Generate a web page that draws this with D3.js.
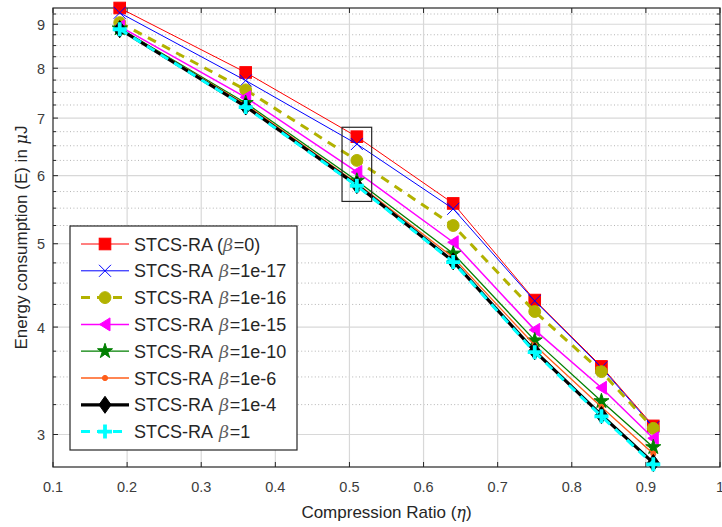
<!DOCTYPE html>
<html>
<head>
<meta charset="utf-8">
<script src="https://cdn.jsdelivr.net/npm/d3@7"></script>
<style>
  body { margin: 0; background: #fff; }
  svg { display: block; font-family: "Liberation Sans", Arial, sans-serif; }
</style>
</head>
<body>
<svg id="chart" width="722" height="527"></svg>
<script>
// compression ratio values on the x axis
const ratios = [0.19, 0.36, 0.51, 0.64, 0.75, 0.84, 0.91];

// energy consumption (uJ) for each beta
const beta0    = [9.40, 7.91, 6.66, 5.57, 4.30, 3.60, 3.07];
const beta1e17 = [9.28, 7.74, 6.53, 5.49, 4.29, 3.59, 3.06];
const beta1e16 = [9.04, 7.55, 6.25, 5.25, 4.17, 3.55, 3.05];
const beta1e15 = [8.95, 7.40, 6.06, 5.02, 3.97, 3.40, 2.97];
const beta1e10 = [8.90, 7.29, 5.92, 4.87, 3.86, 3.28, 2.90];
const beta1e6  = [8.89, 7.26, 5.88, 4.82, 3.81, 3.23, 2.85];
const beta1e4  = [8.88, 7.22, 5.85, 4.77, 3.75, 3.16, 2.78];
const beta1    = [8.88, 7.21, 5.84, 4.76, 3.74, 3.15, 2.77];

const betaLabels = ["0", "1e-17", "1e-16", "1e-15", "1e-10", "1e-6", "1e-4", "1"];

const xTicks = [0.1, 0.2, 0.3, 0.4, 0.5, 0.6, 0.7, 0.8, 0.9, 1];
const yTicks = [3, 4, 5, 6, 7, 8, 9];
const yMinor = [3.25, 3.5, 3.75, 4.25, 4.5, 4.75, 5.25, 5.5, 5.75, 6.25, 6.5, 6.75,
                7.25, 7.5, 7.75, 8.25, 8.5, 8.75, 9.25];

// zoom box around eta = 0.51
const boxX = [0.49, 0.53];
const boxY = [5.6, 6.83];

const svg = d3.select("#chart");
const mLeft = 53, mRight = 720, mTop = 8, mBottom = 467;
const axisCol = "#262626";
const tickCol = "#3c3c3c";

const x = d3.scaleLinear().domain([0.1, 1]).range([mLeft, mRight]);
const y = d3.scaleLog().domain([2.75, 9.4]).range([mBottom, mTop]);

// grid
const grid = svg.append("g");
grid.selectAll(".minor").data(yMinor).join("line")
    .attr("x1", mLeft).attr("x2", mRight)
    .attr("y1", d => y(d)).attr("y2", d => y(d))
    .attr("stroke", "#b4b4b4").attr("stroke-width", 1).attr("stroke-dasharray", "1,2.4");
grid.selectAll(".vx").data(xTicks.slice(1, -1)).join("line")
    .attr("x1", d => x(d)).attr("x2", d => x(d))
    .attr("y1", mTop).attr("y2", mBottom)
    .attr("stroke", "#d8d8d8").attr("stroke-width", 1.2);
grid.selectAll(".hy").data(yTicks).join("line")
    .attr("class", "hy")
    .attr("x1", mLeft).attr("x2", mRight)
    .attr("y1", d => y(d)).attr("y2", d => y(d))
    .attr("stroke", "#d8d8d8").attr("stroke-width", 1.2);

// axes
const ax = svg.append("g");
ax.append("rect").attr("x", mLeft).attr("y", mTop).attr("width", mRight - mLeft).attr("height", mBottom - mTop)
    .attr("fill", "none").attr("stroke", axisCol).attr("stroke-width", 1.2);
xTicks.forEach(t => {
    ax.append("line").attr("x1", x(t)).attr("x2", x(t)).attr("y1", mBottom).attr("y2", mBottom - 5).attr("stroke", axisCol);
    ax.append("line").attr("x1", x(t)).attr("x2", x(t)).attr("y1", mTop).attr("y2", mTop + 5).attr("stroke", axisCol);
    ax.append("text").attr("x", x(t)).attr("y", 492).attr("text-anchor", "middle")
        .attr("font-size", 14.5).attr("fill", tickCol).text(t);
});
yTicks.concat(yMinor).forEach(t => {
    const len = yTicks.includes(t) ? 5 : 3;
    ax.append("line").attr("x1", mLeft).attr("x2", mLeft + len).attr("y1", y(t)).attr("y2", y(t)).attr("stroke", axisCol);
    ax.append("line").attr("x1", mRight).attr("x2", mRight - len).attr("y1", y(t)).attr("y2", y(t)).attr("stroke", axisCol);
});
yTicks.forEach(t => {
    ax.append("text").attr("x", 45).attr("y", y(t) + 5.5).attr("text-anchor", "end")
        .attr("font-size", 14.5).attr("fill", tickCol).text(t);
});

// axis labels
const xl = svg.append("text").attr("x", (mLeft + mRight) / 2).attr("y", 518).attr("text-anchor", "middle")
    .attr("font-size", 17).attr("fill", axisCol);
xl.append("tspan").text("Compression Ratio (");
xl.append("tspan").attr("font-style", "italic").attr("font-family", "DejaVu Serif").attr("font-size", 16).text("η");
xl.append("tspan").text(")");

const yl = svg.append("text").attr("transform", `translate(27,${(mTop + mBottom) / 2}) rotate(-90)`)
    .attr("text-anchor", "middle").attr("font-size", 17).attr("fill", axisCol);
yl.append("tspan").text("Energy consumption (E) in ");
yl.append("tspan").attr("font-style", "italic").attr("font-family", "DejaVu Serif").attr("font-size", 16).text("μ");
yl.append("tspan").text("J");

// marker shapes
const markers = {
    square: g => g.append("rect").attr("x", -5.8).attr("y", -5.8).attr("width", 11.6).attr("height", 11.6),
    times: g => g.append("path").attr("d", "M-6,-6L6,6M-6,6L6,-6").attr("fill", "none"),
    circle: g => g.append("path").attr("d", d3.symbol(d3.symbolCircle, 110)()),
    leftTri: g => g.append("path").attr("d", "M-5.5,0L5,-6.5L5,6.5Z"),
    star: g => g.append("path").attr("d", d3.symbol(d3.symbolStar, 70)()),
    dot: g => g.append("circle").attr("r", 2.6),
    diamond: g => g.append("path").attr("d", "M0,-8.5L6,0L0,8.5L-6,0Z"),
    plus: g => g.append("path").attr("d", "M-7,0L7,0M0,-7L0,7").attr("fill", "none")
};

const series = [
    { values: beta0,    color: "#ff0000", width: 1,   dash: null,  marker: "square",  fill: true,  mw: 1 },
    { values: beta1e17, color: "#0000ff", width: 1,   dash: null,  marker: "times",   fill: false, mw: 1 },
    { values: beta1e16, color: "#b2b200", width: 3,   dash: "9,7", marker: "circle",  fill: true,  mw: 1 },
    { values: beta1e15, color: "#ff00ff", width: 1.5, dash: null,  marker: "leftTri", fill: true,  mw: 1 },
    { values: beta1e10, color: "#007f00", width: 1.3, dash: null,  marker: "star",    fill: true,  mw: 1 },
    { values: beta1e6,  color: "#ff5e1a", width: 1.3, dash: null,  marker: "dot",     fill: true,  mw: 1 },
    { values: beta1e4,  color: "#000000", width: 3.2, dash: null,  marker: "diamond", fill: true,  mw: 1 },
    { values: beta1,    color: "#00ffff", width: 3,   dash: "9,7", marker: "plus",    fill: false, mw: 3.8 }
];

const line = d3.line().x((d, i) => x(ratios[i])).y(d => y(d));

function drawMarker(g, s) {
    const m = markers[s.marker](g);
    m.attr("fill", s.fill ? s.color : "none").attr("stroke", s.color).attr("stroke-width", s.mw);
}

const plot = svg.append("g");
series.forEach(s => {
    plot.append("path").datum(s.values).attr("d", line)
        .attr("fill", "none").attr("stroke", s.color).attr("stroke-width", s.width)
        .attr("stroke-dasharray", s.dash);
    s.values.forEach((v, i) => {
        const g = plot.append("g").attr("transform", `translate(${x(ratios[i])},${y(v)})`);
        drawMarker(g, s);
    });
});

// annotation box
svg.append("rect").attr("x", x(boxX[0])).attr("y", y(boxY[1]))
    .attr("width", x(boxX[1]) - x(boxX[0])).attr("height", y(boxY[0]) - y(boxY[1]))
    .attr("fill", "none").attr("stroke", axisCol).attr("stroke-width", 1.2);

// legend
const lg = svg.append("g");
lg.append("rect").attr("x", 70).attr("y", 226).attr("width", 227).attr("height", 224)
    .attr("fill", "#fff").attr("stroke", axisCol).attr("stroke-width", 1.2);
series.forEach((s, i) => {
    const cy = 244 + i * 26.8;
    lg.append("line").attr("x1", 81).attr("x2", 129).attr("y1", cy).attr("y2", cy)
        .attr("stroke", s.color).attr("stroke-width", s.width).attr("stroke-dasharray", s.dash);
    drawMarker(lg.append("g").attr("transform", `translate(105,${cy})`), s);
    const t = lg.append("text").attr("x", 134).attr("y", cy + 6.5).attr("font-size", 18).attr("fill", axisCol);
    t.append("tspan").text(i === 0 ? "STCS-RA (" : "STCS-RA");
    t.append("tspan").attr("dx", i === 0 ? 0 : 6).attr("font-style", "italic").attr("font-family", "DejaVu Serif")
        .attr("font-size", 17.5).attr("fill", "#606060").text("β");
    t.append("tspan").attr("dx", 0.5).text("=" + betaLabels[i] + (i === 0 ? ")" : ""));
});
</script>
</body>
</html>
